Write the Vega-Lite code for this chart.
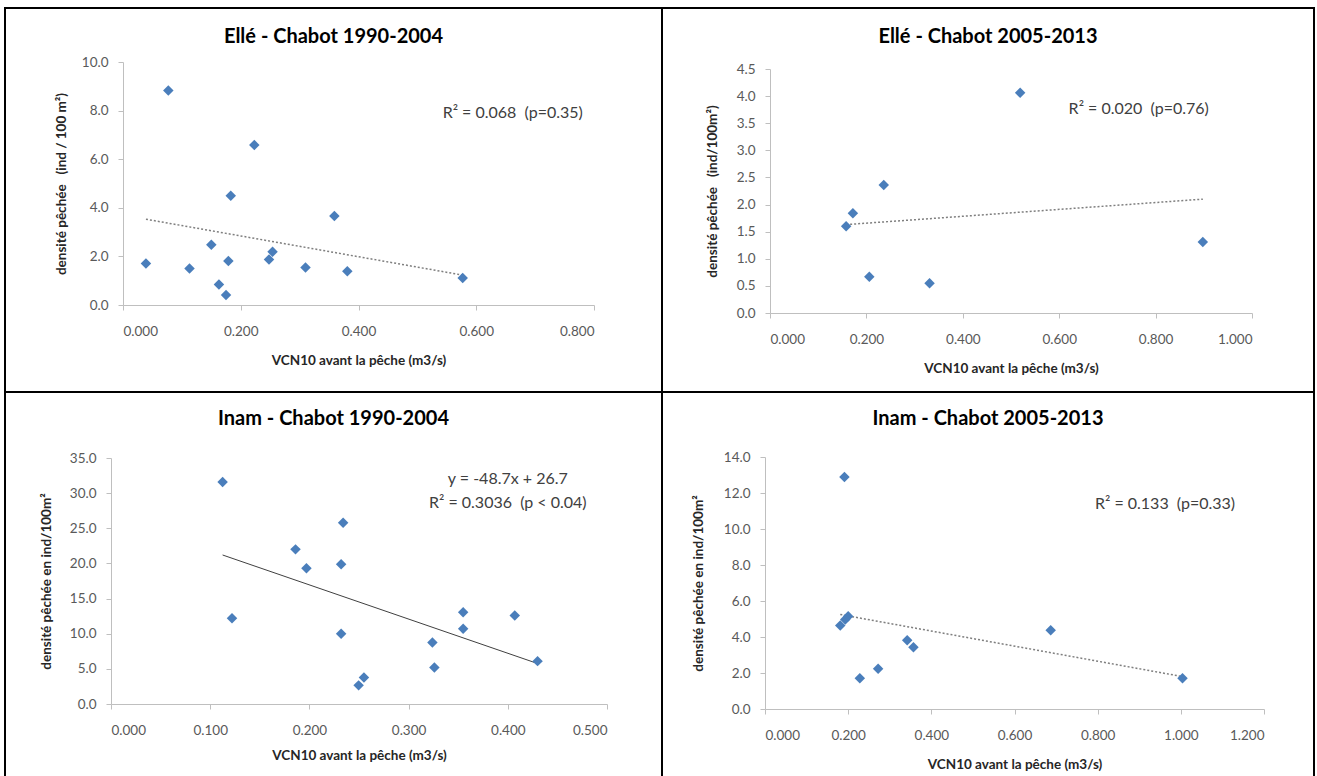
{
  "$schema": "https://vega.github.io/schema/vega-lite/v6.json",
  "background": "white",
  "padding": {"left": 4, "top": 7, "right": 0, "bottom": 0},
  "bounds": "flush",
  "spacing": 0,
  "columns": 2,
  "config": {
    "view": {"stroke": "#000000", "strokeWidth": 2},
    "font": "Lato",
    "axis": {
      "grid": false,
      "domainColor": "#bfbfbf",
      "tickColor": "#bfbfbf",
      "labelColor": "#595959",
      "labelFontSize": 13.5,
      "titleFontSize": 13.5,
      "titleFontWeight": "bold",
      "titleColor": "#262626",
      "tickSize": 5
    },
    "axisX": {"labelPadding": 14, "titlePadding": 16},
    "axisY": {"labelPadding": 10},
    "title": {"fontSize": 20, "fontWeight": "bold", "color": "#000000", "anchor": "middle"}
  },
  "datasets": {
    "pts": [
      {"p": "A", "x": 0.039, "y": 1.71}, {"p": "A", "x": 0.077, "y": 8.83}, {"p": "A", "x": 0.113, "y": 1.50},
      {"p": "A", "x": 0.150, "y": 2.48}, {"p": "A", "x": 0.163, "y": 0.84}, {"p": "A", "x": 0.175, "y": 0.41},
      {"p": "A", "x": 0.179, "y": 1.81}, {"p": "A", "x": 0.183, "y": 4.50}, {"p": "A", "x": 0.223, "y": 6.58},
      {"p": "A", "x": 0.248, "y": 1.87}, {"p": "A", "x": 0.254, "y": 2.19}, {"p": "A", "x": 0.310, "y": 1.54},
      {"p": "A", "x": 0.359, "y": 3.66}, {"p": "A", "x": 0.381, "y": 1.39}, {"p": "A", "x": 0.577, "y": 1.11},
      {"p": "B", "x": 0.158, "y": 1.60}, {"p": "B", "x": 0.172, "y": 1.84}, {"p": "B", "x": 0.236, "y": 2.36},
      {"p": "B", "x": 0.206, "y": 0.67}, {"p": "B", "x": 0.331, "y": 0.55}, {"p": "B", "x": 0.519, "y": 4.06},
      {"p": "B", "x": 0.898, "y": 1.31},
      {"p": "C", "x": 0.1125, "y": 31.6}, {"p": "C", "x": 0.122, "y": 12.2}, {"p": "C", "x": 0.186, "y": 22.0},
      {"p": "C", "x": 0.197, "y": 19.3}, {"p": "C", "x": 0.232, "y": 19.9}, {"p": "C", "x": 0.234, "y": 25.8},
      {"p": "C", "x": 0.232, "y": 10.0}, {"p": "C", "x": 0.2496, "y": 2.65}, {"p": "C", "x": 0.255, "y": 3.78},
      {"p": "C", "x": 0.324, "y": 8.75}, {"p": "C", "x": 0.326, "y": 5.2}, {"p": "C", "x": 0.355, "y": 13.06},
      {"p": "C", "x": 0.355, "y": 10.7}, {"p": "C", "x": 0.407, "y": 12.6}, {"p": "C", "x": 0.430, "y": 6.1},
      {"p": "D", "x": 0.191, "y": 12.89}, {"p": "D", "x": 0.181, "y": 4.64}, {"p": "D", "x": 0.193, "y": 4.97},
      {"p": "D", "x": 0.200, "y": 5.15}, {"p": "D", "x": 0.228, "y": 1.71}, {"p": "D", "x": 0.272, "y": 2.24},
      {"p": "D", "x": 0.342, "y": 3.82}, {"p": "D", "x": 0.357, "y": 3.43}, {"p": "D", "x": 0.687, "y": 4.38},
      {"p": "D", "x": 1.004, "y": 1.71}
    ],
    "trend": [
      {"p": "A", "x": 0.039, "y": 3.53}, {"p": "A", "x": 0.577, "y": 1.23},
      {"p": "B", "x": 0.158, "y": 1.63}, {"p": "B", "x": 0.898, "y": 2.10},
      {"p": "C", "x": 0.1125, "y": 21.2}, {"p": "C", "x": 0.430, "y": 5.76},
      {"p": "D", "x": 0.181, "y": 5.25}, {"p": "D", "x": 1.004, "y": 1.8}
    ],
    "notes": [
      {"p": "A", "x": 0.662, "y": 7.9, "label": "R² = 0.068 \u00a0(p=0.35)"},
      {"p": "B", "x": 0.765, "y": 3.76, "label": "R² = 0.020 \u00a0(p=0.76)"},
      {"p": "C", "x": 0.40, "y": 32.07, "label": "y = -48.7x + 26.7"},
      {"p": "C", "x": 0.40, "y": 28.6, "label": "R² = 0.3036 \u00a0(p < 0.04)"},
      {"p": "D", "x": 0.962, "y": 11.37, "label": "R² = 0.133 \u00a0(p=0.33)"}
    ]
  },
  "concat": [
    {
      "width": 657, "height": 384,
      "title": {"text": "Ellé - Chabot 1990-2004", "offset": -39},
      "layer": [
        {
          "data": {"name": "trend"},
          "transform": [{"filter": "datum.p === 'A'"}],
          "mark": {"type": "line", "color": "#7f7f7f", "strokeWidth": 1.5, "strokeDash": [2, 2]},
          "encoding": {
            "x": {"field": "x", "type": "quantitative",
              "scale": {"domain": [0, 0.8], "range": [118, 589], "nice": false},
              "axis": {"values": [0, 0.2, 0.4, 0.6, 0.8], "format": ".3f", "offset": -87, "title": "VCN10 avant la pêche (m3/s)"}},
            "y": {"field": "y", "type": "quantitative",
              "scale": {"domain": [0, 10], "range": [297, 54], "nice": false},
              "axis": {"values": [0, 2, 4, 6, 8, 10], "format": ".1f", "offset": -118, "titlePadding": 13, "title": "densité pêchée \u00a0 (ind / 100 m²)"}}
          }
        },
        {
          "data": {"name": "pts"},
          "transform": [{"filter": "datum.p === 'A'"}],
          "mark": {"type": "point", "shape": "diamond", "filled": true, "size": 110, "color": "#4a7ebb", "opacity": 1},
          "encoding": {"x": {"field": "x", "type": "quantitative"}, "y": {"field": "y", "type": "quantitative"}}
        },
        {
          "data": {"name": "notes"},
          "transform": [{"filter": "datum.p === 'A'"}],
          "mark": {"type": "text", "fontSize": 16, "color": "#404040"},
          "encoding": {"x": {"field": "x", "type": "quantitative"}, "y": {"field": "y", "type": "quantitative"}, "text": {"field": "label"}}
        }
      ]
    },
    {
      "width": 652, "height": 384,
      "title": {"text": "Ellé - Chabot 2005-2013", "offset": -39},
      "layer": [
        {
          "data": {"name": "trend"},
          "transform": [{"filter": "datum.p === 'B'"}],
          "mark": {"type": "line", "color": "#7f7f7f", "strokeWidth": 1.5, "strokeDash": [2, 2]},
          "encoding": {
            "x": {"field": "x", "type": "quantitative",
              "scale": {"domain": [0, 1], "range": [108, 590], "nice": false},
              "axis": {"values": [0, 0.2, 0.4, 0.6, 0.8, 1.0], "format": ".3f", "offset": -79, "title": "VCN10 avant la pêche (m3/s)"}},
            "y": {"field": "y", "type": "quantitative",
              "scale": {"domain": [0, 4.5], "range": [305, 61], "nice": false},
              "axis": {"values": [0, 0.5, 1, 1.5, 2, 2.5, 3, 3.5, 4, 4.5], "format": ".1f", "offset": -108, "titlePadding": 17, "title": "densité pêchée \u00a0 (ind/100m²)"}}
          }
        },
        {
          "data": {"name": "pts"},
          "transform": [{"filter": "datum.p === 'B'"}],
          "mark": {"type": "point", "shape": "diamond", "filled": true, "size": 110, "color": "#4a7ebb", "opacity": 1},
          "encoding": {"x": {"field": "x", "type": "quantitative"}, "y": {"field": "y", "type": "quantitative"}}
        },
        {
          "data": {"name": "notes"},
          "transform": [{"filter": "datum.p === 'B'"}],
          "mark": {"type": "text", "fontSize": 16, "color": "#404040"},
          "encoding": {"x": {"field": "x", "type": "quantitative"}, "y": {"field": "y", "type": "quantitative"}, "text": {"field": "label"}}
        }
      ]
    },
    {
      "width": 657, "height": 387,
      "title": {"text": "Inam - Chabot 1990-2004", "offset": -37},
      "layer": [
        {
          "data": {"name": "trend"},
          "transform": [{"filter": "datum.p === 'C'"}],
          "mark": {"type": "line", "color": "#404040", "strokeWidth": 1},
          "encoding": {
            "x": {"field": "x", "type": "quantitative",
              "scale": {"domain": [0, 0.5], "range": [106, 602], "nice": false},
              "axis": {"values": [0, 0.1, 0.2, 0.3, 0.4, 0.5], "format": ".3f", "offset": -75, "titlePadding": 12, "title": "VCN10 avant la pêche (m3/s)"}},
            "y": {"field": "y", "type": "quantitative",
              "scale": {"domain": [0, 35], "range": [312, 66], "nice": false},
              "axis": {"values": [0, 5, 10, 15, 20, 25, 30, 35], "format": ".1f", "offset": -106, "titlePadding": 16, "title": "densité pêchée en ind/100m²"}}
          }
        },
        {
          "data": {"name": "pts"},
          "transform": [{"filter": "datum.p === 'C'"}],
          "mark": {"type": "point", "shape": "diamond", "filled": true, "size": 110, "color": "#4a7ebb", "opacity": 1},
          "encoding": {"x": {"field": "x", "type": "quantitative"}, "y": {"field": "y", "type": "quantitative"}}
        },
        {
          "data": {"name": "notes"},
          "transform": [{"filter": "datum.p === 'C'"}],
          "mark": {"type": "text", "fontSize": 16, "color": "#404040"},
          "encoding": {"x": {"field": "x", "type": "quantitative"}, "y": {"field": "y", "type": "quantitative"}, "text": {"field": "label"}}
        }
      ]
    },
    {
      "width": 652, "height": 387,
      "title": {"text": "Inam - Chabot 2005-2013", "offset": -37},
      "layer": [
        {
          "data": {"name": "trend"},
          "transform": [{"filter": "datum.p === 'D'"}],
          "mark": {"type": "line", "color": "#7f7f7f", "strokeWidth": 1.5, "strokeDash": [2, 2]},
          "encoding": {
            "x": {"field": "x", "type": "quantitative",
              "scale": {"domain": [0, 1.2], "range": [103, 602], "nice": false},
              "axis": {"values": [0, 0.2, 0.4, 0.6, 0.8, 1.0, 1.2], "format": ".3f", "offset": -70, "title": "VCN10 avant la pêche (m3/s)"}},
            "y": {"field": "y", "type": "quantitative",
              "scale": {"domain": [0, 14], "range": [317, 65], "nice": false},
              "axis": {"values": [0, 2, 4, 6, 8, 10, 12, 14], "format": ".1f", "offset": -103, "titlePadding": 18, "title": "densité pêchée en ind/100m²"}}
          }
        },
        {
          "data": {"name": "pts"},
          "transform": [{"filter": "datum.p === 'D'"}],
          "mark": {"type": "point", "shape": "diamond", "filled": true, "size": 110, "color": "#4a7ebb", "opacity": 1},
          "encoding": {"x": {"field": "x", "type": "quantitative"}, "y": {"field": "y", "type": "quantitative"}}
        },
        {
          "data": {"name": "notes"},
          "transform": [{"filter": "datum.p === 'D'"}],
          "mark": {"type": "text", "fontSize": 16, "color": "#404040"},
          "encoding": {"x": {"field": "x", "type": "quantitative"}, "y": {"field": "y", "type": "quantitative"}, "text": {"field": "label"}}
        }
      ]
    }
  ]
}
